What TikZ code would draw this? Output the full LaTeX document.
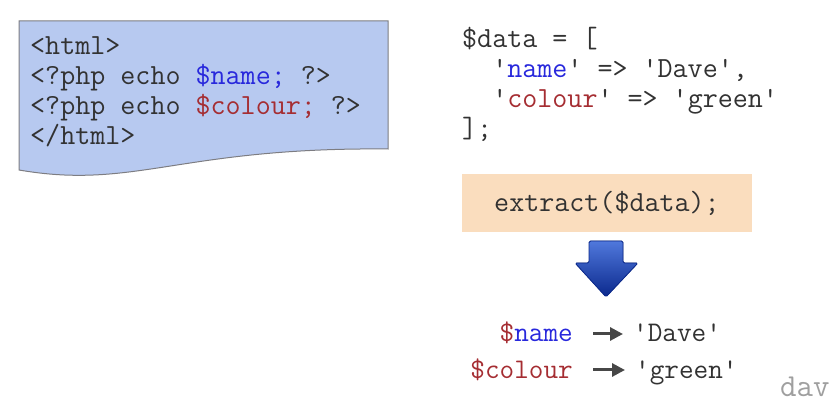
\documentclass[tikz,border=0pt]{standalone}
\usepackage{fontspec}
\usetikzlibrary{arrows.meta}
\definecolor{boxblue}{RGB}{183,201,240}
\definecolor{boxedge}{RGB}{125,125,130}
\definecolor{peach}{RGB}{250,221,190}
\definecolor{codegray}{RGB}{50,50,50}
\definecolor{kwblue}{RGB}{40,40,220}
\definecolor{kwred}{RGB}{165,45,50}
\definecolor{arrdark}{RGB}{10,40,140}
\definecolor{arrlight}{RGB}{80,120,220}
\tikzset{
  code/.style={font=\ttfamily\fontsize{29.2}{30}\selectfont, text=codegray, inner sep=0pt, anchor=base west, align=left},
  small/.style={font=\ttfamily\fontsize{28.4}{30}\selectfont, text=codegray, inner sep=0pt, text height=20pt, text depth=4pt},
  maparrow/.style={draw=codegray!90, line width=3pt, -{Triangle[length=13pt,width=13pt]}, shorten <=20pt, shorten >=10pt},
}
\newcommand{\bl}[1]{\textcolor{kwblue}{#1}}
\newcommand{\rd}[1]{\textcolor{kwred}{#1}}
\begin{document}
\begin{tikzpicture}[x=1pt,y=-1pt]
\useasboundingbox (0,0) rectangle (831,406);
% document shape
\filldraw[fill=boxblue, draw=boxedge, line width=1pt]
  (19,21) -- (388,21) -- (388,149) .. controls (180,147) and (135,190) .. (19,170) -- cycle;
\node[code] (tpl) at (30,145) {<html>\\ <?php echo \bl{\$name;} ?>\\ <?php echo \rd{\$colour;} ?>\\ </html>};
% array
\node[code] (arr) at (462,138) {\$data = [\\ \ \ '\bl{name}' => 'Dave',\\ \ \ '\rd{colour}' => 'green'\\ ];};
% extract box
\node[fill=peach, minimum width=290pt, minimum height=58pt, inner sep=0pt] (ext) at (607,203) {};
\node[code, anchor=base] (extt) at (ext.center |- 0,212) {extract(\$data);};
% blue arrow
\filldraw[top color=arrlight, bottom color=arrdark, draw=arrdark, line width=0.8pt, rounded corners=1.5pt]
  (589,241) -- (623,241) -- (623,263) -- (638,263) -- (606,297) -- (575,263) -- (589,263) -- cycle;
% results
\node[small, anchor=base east] (vn) at (573,342) {\rd{\$}\bl{name}};
\node[small, anchor=base west] (vd) at (633,342) {'Dave'};
\node[small, anchor=base east] (vc) at (573,378) {\rd{\$colour}};
\node[small, anchor=base west] (vg) at (635,378) {'green'};
\draw[maparrow] (vn.east) -- (vd.west);
\draw[maparrow] (vc.east) -- (vg.west);
% watermark
\node[font=\ttfamily\fontsize{32}{34}\selectfont, text=gray!75, inner sep=0pt, anchor=base west] (wm) at (780,397) {dav};
\end{tikzpicture}
\end{document}
